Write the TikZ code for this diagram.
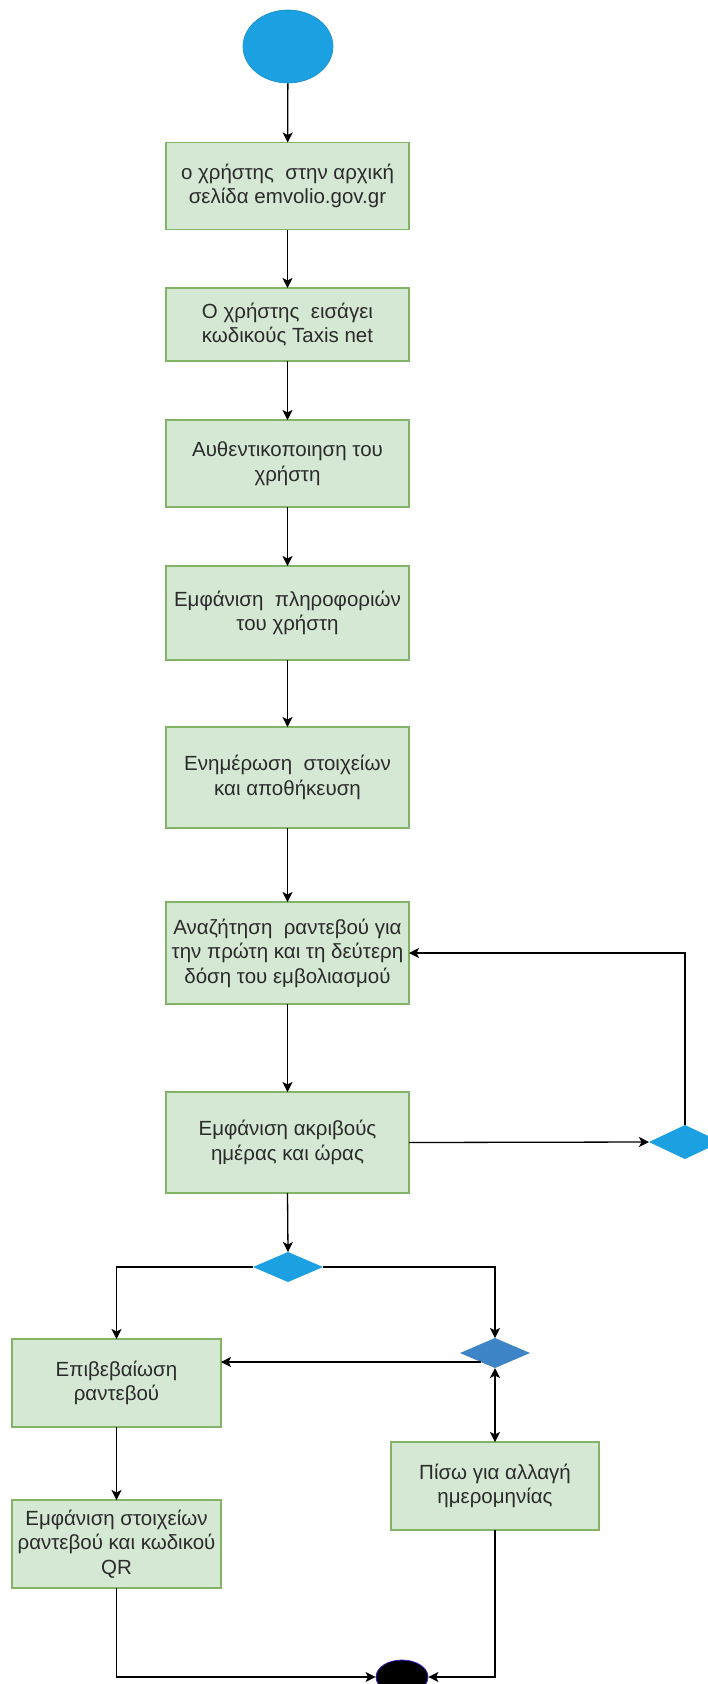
\documentclass[tikz,border=0pt]{standalone}
\usepackage{fontspec}
\setmainfont{Liberation Sans}
\usetikzlibrary{shapes.geometric,arrows.meta,calc}
\definecolor{boxfill}{HTML}{D5E8D4}
\definecolor{boxline}{HTML}{82B366}
\definecolor{dblue}{HTML}{1BA1E2}
\definecolor{dblueline}{HTML}{1A8CC8}
\definecolor{mblue}{HTML}{3D85C6}
\definecolor{txt}{HTML}{2B2B2B}
\definecolor{endline}{HTML}{3A1FD0}
\tikzset{
  stepbox/.style={draw=boxline, fill=boxfill, line width=1.1pt, rectangle, inner sep=0pt, outer sep=0pt,
    align=center, text=txt, font=\fontsize{20.5}{24.5}\selectfont, minimum width=243pt},
  decis/.style={diamond, fill=dblue, draw=none, inner sep=0pt, outer sep=0pt},
  arr/.style={draw=black, line width=1.3pt, -{Stealth[length=10pt,width=10pt,inset=2.5pt]}},
  dblarr/.style={draw=black, line width=1.3pt, {Stealth[length=10pt,width=10pt,inset=2.5pt]}-{Stealth[length=10pt,width=10pt,inset=2.5pt]}}
}
\begin{document}
\begin{tikzpicture}[x=1pt,y=-1pt]
\clip (0,0) rectangle (708,1684);
\fill[white] (0,0) rectangle (708,1684);
\node[ellipse, fill=dblue, draw=dblueline, line width=0.6pt, minimum width=90pt, minimum height=73pt, inner sep=0pt] (start) at (288,46.5) {};
\node[stepbox, minimum height=87pt] (b1) at (287.5,186) {ο χρήστης\ \ στην αρχική\\ σελίδα emvolio.gov.gr};
\node[stepbox, minimum height=73pt] (b2) at (287.5,324.5) {Ο χρήστης\ \ εισάγει\\ κωδικούς Taxis net};
\node[stepbox, minimum height=87pt] (b3) at (287.5,463.5) {Αυθεντικοποιηση του\\ χρήστη};
\node[stepbox, minimum height=94pt] (b4) at (287.5,613) {Εμφάνιση\ \ πληροφοριών\\ του χρήστη};
\node[stepbox, minimum height=101pt] (b5) at (287.5,777.5) {Ενημέρωση\ \ στοιχείων\\ και αποθήκευση};
\node[stepbox, minimum height=102pt] (b6) at (287.5,953) {Αναζήτηση\ \ ραντεβού για\\ την πρώτη και τη δεύτερη\\ δόση του εμβολιασμού};
\node[stepbox, minimum height=101pt] (b7) at (287.5,1142.5) {Εμφάνιση ακριβούς\\ ημέρας και ώρας};
\node[decis, minimum width=72pt, minimum height=34pt] (d1) at (685,1142) {};
\node[decis, minimum width=70pt, minimum height=30pt] (d2) at (288,1267) {};
\node[decis, fill=mblue, minimum width=70pt, minimum height=30pt] (d3) at (495,1353) {};
\node[stepbox, minimum width=209pt, minimum height=88pt] (b8) at (116.5,1383) {Επιβεβαίωση\\ ραντεβού};
\node[stepbox, minimum width=209pt, minimum height=88pt] (b9) at (116.5,1544) {Εμφάνιση στοιχείων\\ ραντεβού και κωδικού\\ QR};
\node[stepbox, minimum width=208pt, minimum height=88pt] (b10) at (495,1486) {Πίσω για αλλαγή\\ ημερομηνίας};
\node[ellipse, fill=black, draw=endline, line width=0.8pt, minimum width=52pt, minimum height=34pt, inner sep=0pt] (end) at (402,1677) {};
\draw[arr] (start) -- (b1);
\draw[arr] (b1) -- (b2);
\draw[arr] (b2) -- (b3);
\draw[arr] (b3) -- (b4);
\draw[arr] (b4) -- (b5);
\draw[arr] (b5) -- (b6);
\draw[arr] (b6) -- (b7);
\draw[arr] (b7.east) -- (d1.west);
\draw[arr] (d1.north) |- (b6.east);
\draw[arr] (b7.south) -- (d2.north);
\draw[arr] (d2.west) -| (b8.north);
\draw[arr] (d2.east) -| (d3.north);
\coordinate (d3l) at ($(d3.west)!0.6!(d3.south)$);
\draw[arr] (d3l) -- (d3l -| b8.east);
\draw[dblarr] (d3.south) -- (b10.north);
\draw[arr] (b8.south) -- (b9.north);
\draw[arr] (b9.south) |- (end.west);
\draw[arr] (b10.south) |- (end.east);
\end{tikzpicture}
\end{document}
